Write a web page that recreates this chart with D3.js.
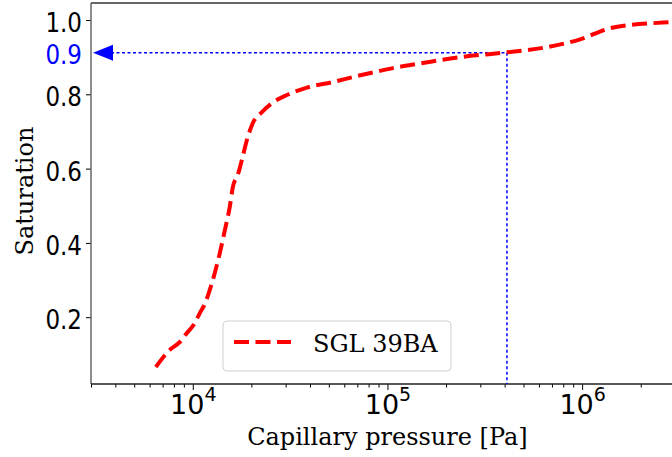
<!DOCTYPE html>
<html>
<head>
<meta charset="utf-8">
<script src="https://cdn.jsdelivr.net/npm/d3@7"></script>
<style>
  body { margin: 0; background: #fff; }
  svg { display: block; }
</style>
</head>
<body>
<svg id="chart" width="672" height="457"></svg>
<script>
// capillary pressure curve
const pressure = [6457, 7621, 8570, 9311, 10233, 10864, 11535, 12218, 12972, 13772,
  14622, 15488, 16069, 17022, 17865, 18967, 20324, 22646, 25468, 30409,
  38548, 52481, 69663, 91411, 112460, 147000, 236000, 411000, 661000, 977000,
  1390000, 1770000, 2600000, 3000000];
const saturation = [0.066, 0.112, 0.133, 0.157, 0.184, 0.211, 0.236, 0.273, 0.319, 0.373,
  0.435, 0.497, 0.551, 0.583, 0.623, 0.677, 0.722, 0.752, 0.776, 0.798,
  0.818, 0.833, 0.849, 0.863, 0.873, 0.883, 0.900, 0.913, 0.927, 0.948,
  0.978, 0.987, 0.993, 0.995];
const seriesName = "SGL 39BA";

// the marked point (label text differs from value on purpose, as in the picture)
const markPressure = 411000;
const markSat = 0.912;
const markLabel = "0.9";

const yTicks = [0.2, 0.4, 0.6, 0.8, 1.0];
const xMajor = [1e4, 1e5, 1e6];
const xDomain = [3000, 3e6];
const yDomain = [0.0202, 1.0458];

const svg = d3.select("#chart");
const mLeft = 91, mRight = 675, mTop = 3, mBottom = 384;

const x = d3.scaleLog().domain(xDomain).range([mLeft, mRight]);
const y = d3.scaleLinear().domain(yDomain).range([mBottom, mTop]);

const sans = "DejaVu Sans", serif = "DejaVu Serif";

// minor x ticks
let xMinor = [];
for (let e = 3; e <= 6; e++) {
  for (let m = 2; m <= 9; m++) {
    const v = m * Math.pow(10, e);
    if (v >= xDomain[0] && v <= xDomain[1]) xMinor.push(v);
  }
}

const gxMinor = svg.append("g").attr("transform", `translate(0,${mBottom})`)
  .call(d3.axisBottom(x).tickValues(xMinor).tickSize(3.5).tickFormat(""));
const gx = svg.append("g").attr("transform", `translate(0,${mBottom})`)
  .call(d3.axisBottom(x).tickValues(xMajor).tickSize(6).tickFormat(""));
[gxMinor, gx].forEach(g => {
  g.select(".domain").remove();
  g.selectAll(".tick line").attr("stroke", "#000").attr("stroke-width", 1);
});

gx.selectAll(".tick").append("text")
  .attr("y", 30)
  .attr("text-anchor", "middle")
  .attr("fill", "#000")
  .style("font-family", sans)
  .style("font-size", "27px")
  .each(function(d) {
    const t = d3.select(this);
    t.append("tspan").text("10");
    t.append("tspan").attr("dy", -13).style("font-size", "19px").text(Math.round(Math.log10(d)));
  });

const gy = svg.append("g").attr("transform", `translate(${mLeft},0)`)
  .call(d3.axisLeft(y).tickValues(yTicks).tickSize(5).tickPadding(4).tickFormat(d3.format(".1f")));
gy.select(".domain").remove();
gy.selectAll(".tick line").attr("stroke", "#000");
gy.selectAll(".tick text")
  .attr("fill", "#000")
  .attr("dy", "0.42em")
  .attr("transform", "scale(1,1.19)")
  .style("font-family", sans)
  .style("font-size", "23px");

// spines
svg.append("line").attr("x1", mLeft).attr("x2", mRight).attr("y1", mTop).attr("y2", mTop)
  .attr("stroke", "#666").attr("stroke-width", 2);
svg.append("line").attr("x1", mLeft).attr("x2", mLeft).attr("y1", mTop).attr("y2", mBottom)
  .attr("stroke", "#666").attr("stroke-width", 1.5);
svg.append("line").attr("x1", mLeft).attr("x2", mRight).attr("y1", mBottom).attr("y2", mBottom)
  .attr("stroke", "#222").attr("stroke-width", 1.5);

// axis labels
svg.append("text")
  .attr("x", (x(xMajor[0]) + x(xMajor[2])) / 2)
  .attr("y", 445)
  .attr("text-anchor", "middle")
  .style("font-family", serif)
  .style("font-size", "24px")
  .text("Capillary pressure [Pa]");

svg.append("text")
  .attr("transform", "translate(33,191) rotate(-90)")
  .attr("text-anchor", "middle")
  .style("font-family", serif)
  .style("font-size", "24px")
  .text("Saturation");

// marker lines
const blue = "#0000ff";
svg.append("line")
  .attr("x1", x(markPressure)).attr("x2", x(markPressure))
  .attr("y1", y(markSat)).attr("y2", mBottom)
  .attr("stroke", blue).attr("stroke-width", 1.5).attr("stroke-dasharray", "3,2.5");
svg.append("line")
  .attr("x1", mLeft + 20).attr("x2", x(markPressure))
  .attr("y1", y(markSat)).attr("y2", y(markSat))
  .attr("stroke", blue).attr("stroke-width", 1.5).attr("stroke-dasharray", "3,2.5");
svg.append("path")
  .attr("d", `M${mLeft + 2},${y(markSat)} L${mLeft + 22},${y(markSat) - 8} L${mLeft + 22},${y(markSat) + 8} Z`)
  .attr("fill", blue);
svg.append("g").attr("transform", `translate(${mLeft - 9},${y(markSat)})`)
  .append("text")
  .attr("dy", "0.42em")
  .attr("transform", "scale(1,1.19)")
  .attr("text-anchor", "end")
  .attr("fill", blue)
  .style("font-family", sans)
  .style("font-size", "23px")
  .text(markLabel);

// curve
const data = pressure.map((p, i) => ({ p: p, s: saturation[i] }));
const line = d3.line().x(d => x(d.p)).y(d => y(d.s)).curve(d3.curveMonotoneX);

svg.append("defs").append("clipPath").attr("id", "clip")
  .append("rect").attr("x", mLeft).attr("y", mTop).attr("width", mRight - mLeft).attr("height", mBottom - mTop);

svg.append("path")
  .datum(data)
  .attr("clip-path", "url(#clip)")
  .attr("d", line)
  .attr("fill", "none")
  .attr("stroke", "#ff0000")
  .attr("stroke-width", 4)
  .attr("stroke-dasharray", "15,6.5");

// legend
const lg = svg.append("g");
lg.append("rect")
  .attr("x", 223).attr("y", 321).attr("width", 228).attr("height", 50)
  .attr("rx", 4)
  .attr("fill", "#fff").attr("fill-opacity", 0.8)
  .attr("stroke", "#d0d0d0").attr("stroke-width", 1);
lg.append("line")
  .attr("x1", 234).attr("x2", 291).attr("y1", 342).attr("y2", 342)
  .attr("stroke", "#ff0000").attr("stroke-width", 4).attr("stroke-dasharray", "15,6.5");
lg.append("text")
  .attr("x", 313).attr("y", 352)
  .style("font-family", serif)
  .style("font-size", "24px")
  .text(seriesName);
</script>
</body>
</html>
